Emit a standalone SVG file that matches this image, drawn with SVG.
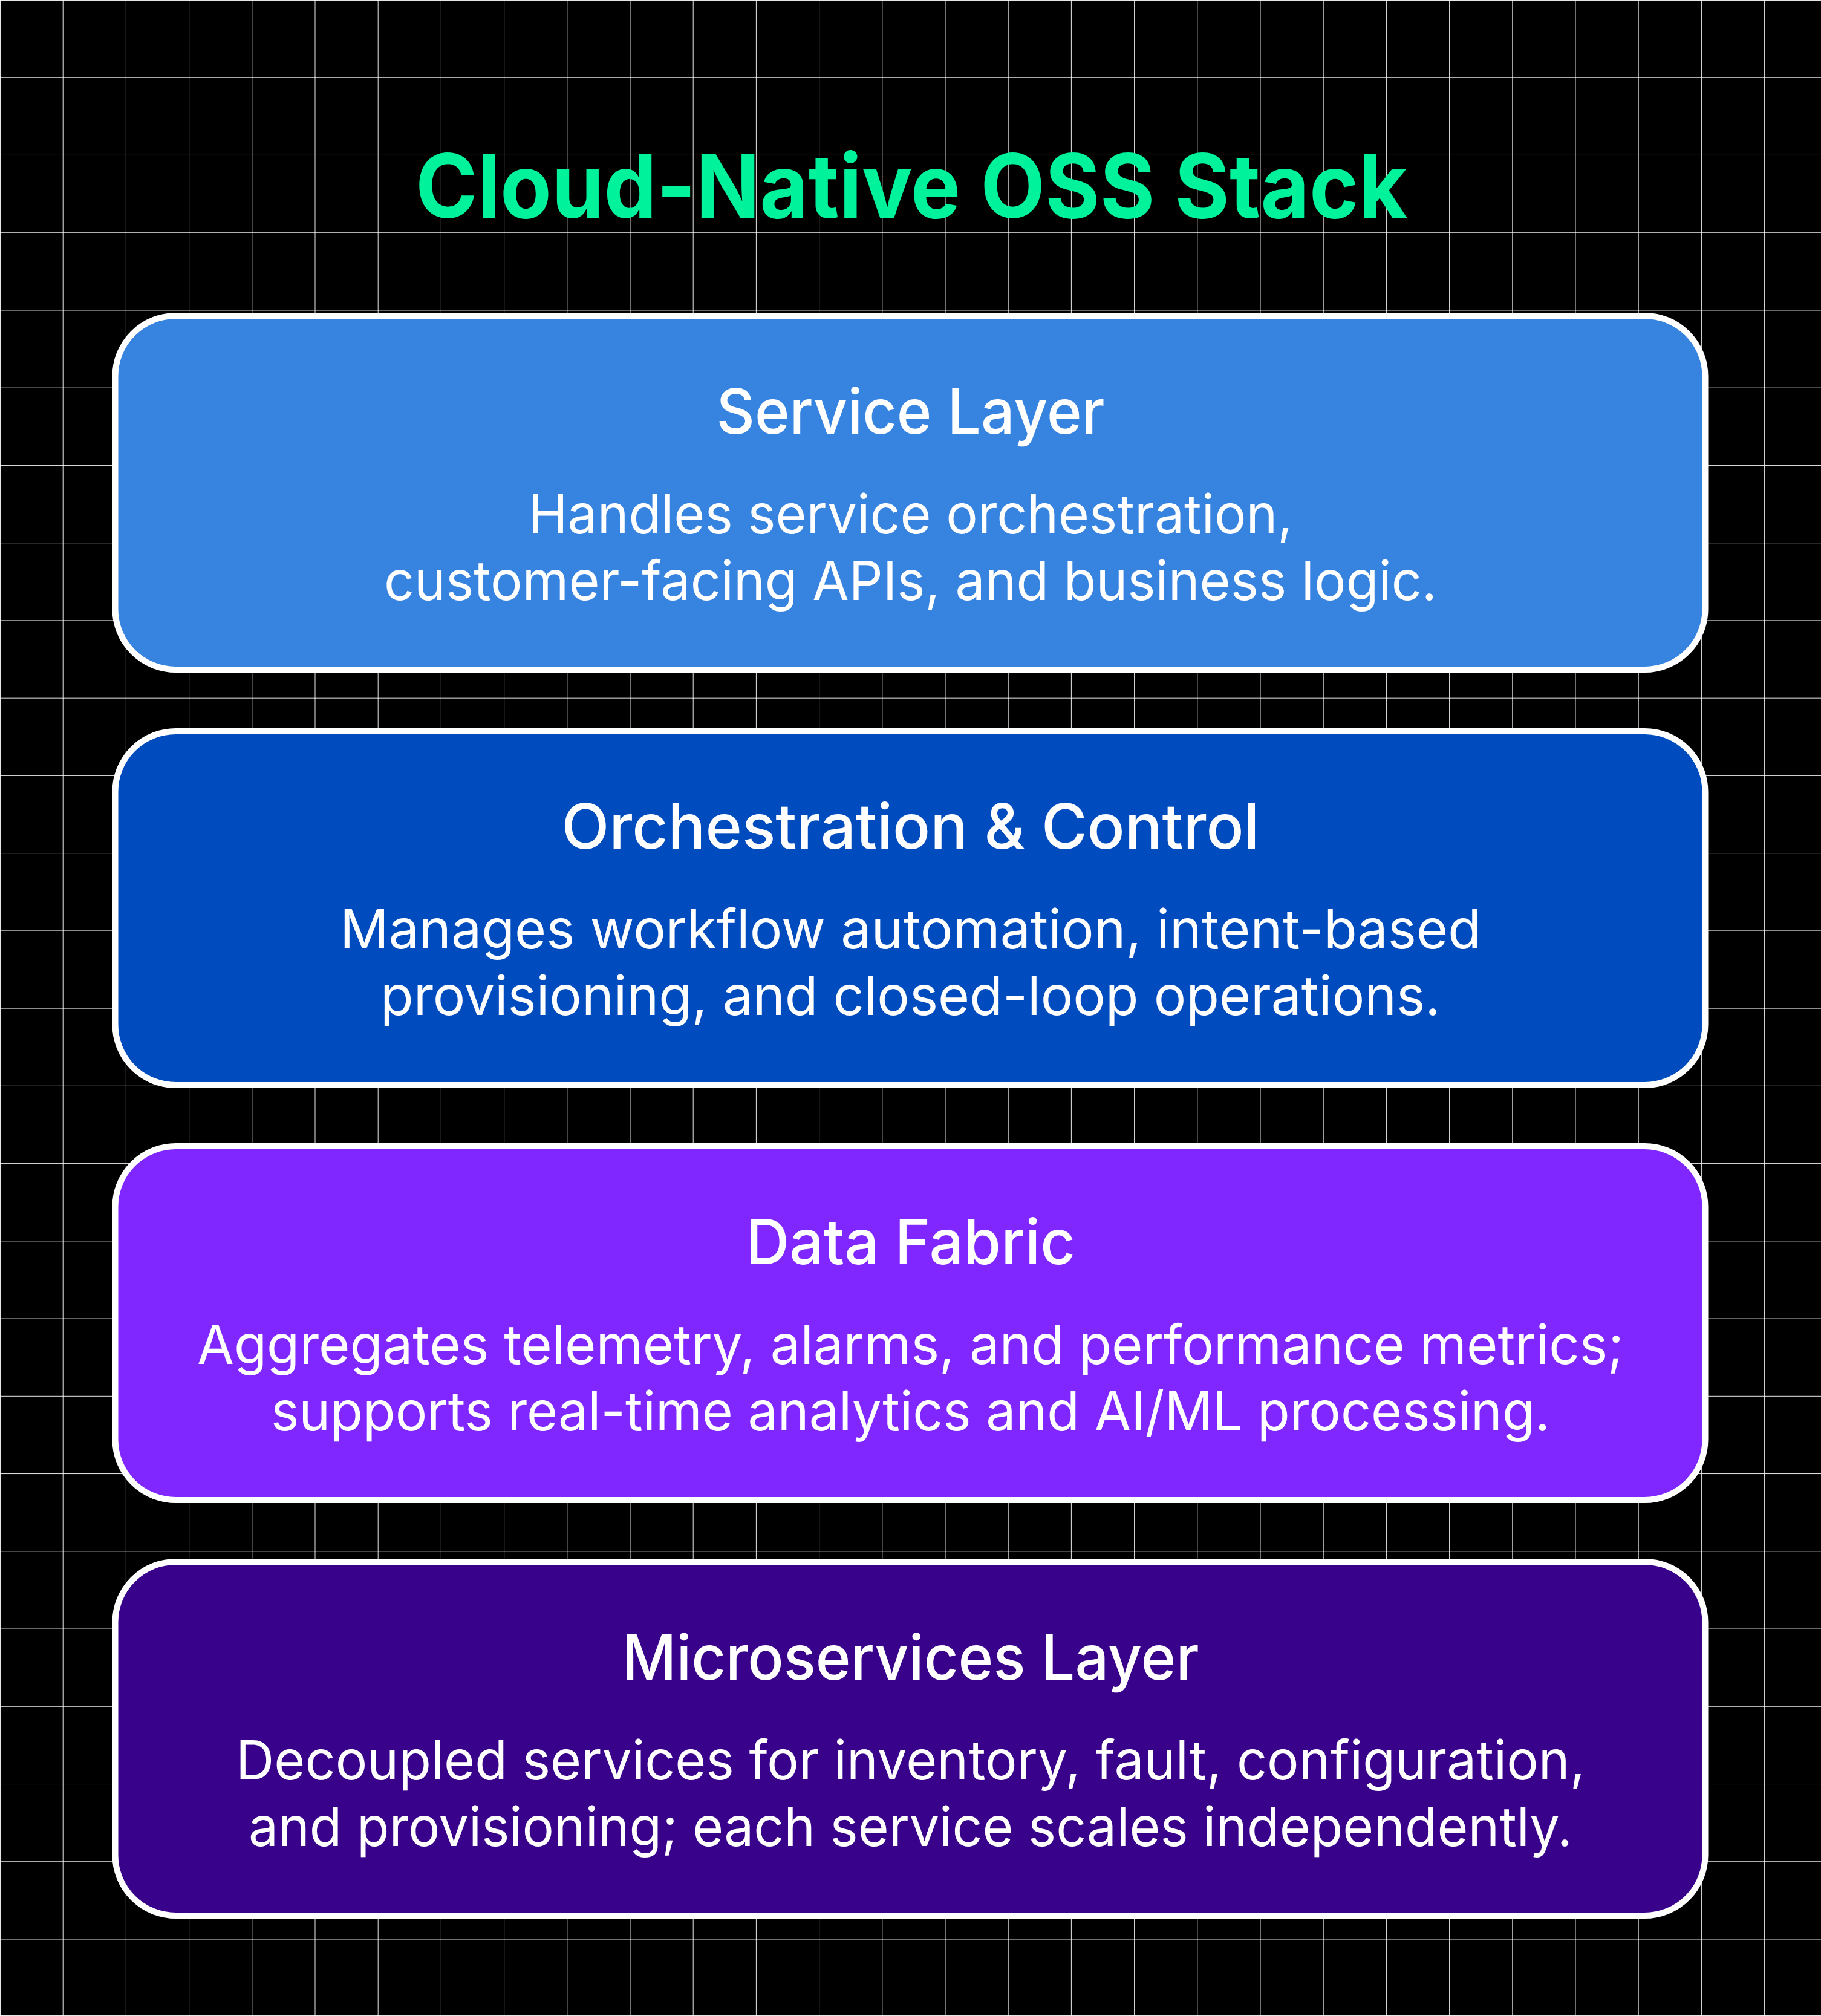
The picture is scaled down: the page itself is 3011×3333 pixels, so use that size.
<svg xmlns="http://www.w3.org/2000/svg" width="3011" height="3333" viewBox="0 0 3011 3333">
<style>
.grid{stroke:#ffffff;stroke-width:1;fill:none;opacity:0.9}
.box{stroke:#ffffff;stroke-width:10}
.title{font-family:Inter,"Liberation Sans",sans-serif;font-weight:700;font-size:146px;fill:#00F39A;text-anchor:middle}
.head{font-family:Inter,"Liberation Sans",sans-serif;font-weight:500;font-size:103px;fill:#ffffff;text-anchor:middle}
.body{font-family:Inter,"Liberation Sans",sans-serif;font-weight:400;font-size:90px;fill:#ffffff;text-anchor:middle}
</style>
<rect x="0" y="0" width="3011" height="3333" fill="#000000"/>
<path class="grid" d="M0.5 0V3333M104.2 0V3333M208.4 0V3333M312.6 0V3333M416.8 0V3333M521 0V3333M625.2 0V3333M729.4 0V3333M833.6 0V3333M937.8 0V3333M1042 0V3333M1146.2 0V3333M1250.4 0V3333M1354.6 0V3333M1458.8 0V3333M1563 0V3333M1667.2 0V3333M1771.4 0V3333M1875.6 0V3333M1979.8 0V3333M2084 0V3333M2188.2 0V3333M2292.4 0V3333M2396.6 0V3333M2500.8 0V3333M2605 0V3333M2709.2 0V3333M2813.4 0V3333M2917.6 0V3333M0 0.5H3011M0 128.24H3011M0 256.48H3011M0 384.72H3011M0 512.96H3011M0 641.2H3011M0 769.44H3011M0 897.68H3011M0 1025.92H3011M0 1154.16H3011M0 1282.4H3011M0 1410.64H3011M0 1538.88H3011M0 1667.12H3011M0 1795.36H3011M0 1923.6H3011M0 2051.84H3011M0 2180.08H3011M0 2308.32H3011M0 2436.56H3011M0 2564.8H3011M0 2693.04H3011M0 2821.28H3011M0 2949.52H3011M0 3077.76H3011M0 3206H3011M0 3332.5H3011"/>
<text class="title" x="1507" y="360" textLength="1640" lengthAdjust="spacingAndGlyphs">Cloud-Native OSS Stack</text>
<g id="service-layer">
<rect class="box" x="190.5" y="522" width="2629" height="585" rx="100" fill="#3783E0"/>
<text class="head" x="1505.5" y="717" textLength="642" lengthAdjust="spacingAndGlyphs">Service Layer</text>
<text class="body" x="1505.5" y="882" textLength="1264" lengthAdjust="spacingAndGlyphs">Handles service orchestration,</text>
<text class="body" x="1505.5" y="992" textLength="1741" lengthAdjust="spacingAndGlyphs">customer-facing APIs, and business logic.</text>
</g>
<g id="orchestration-control">
<rect class="box" x="190.5" y="1209" width="2629" height="585" rx="100" fill="#004CBF"/>
<text class="head" x="1505.5" y="1403" textLength="1154" lengthAdjust="spacingAndGlyphs">Orchestration &amp; Control</text>
<text class="body" x="1505.5" y="1568" textLength="1887" lengthAdjust="spacingAndGlyphs">Manages workflow automation, intent-based</text>
<text class="body" x="1505.5" y="1678" textLength="1753" lengthAdjust="spacingAndGlyphs">provisioning, and closed-loop operations.</text>
</g>
<g id="data-fabric">
<rect class="box" x="190.5" y="1895" width="2629" height="585" rx="100" fill="#7F27FE"/>
<text class="head" x="1505.5" y="2090" textLength="545" lengthAdjust="spacingAndGlyphs">Data Fabric</text>
<text class="body" x="1505.5" y="2255" textLength="2359" lengthAdjust="spacingAndGlyphs">Aggregates telemetry, alarms, and performance metrics;</text>
<text class="body" x="1505.5" y="2365" textLength="2115" lengthAdjust="spacingAndGlyphs">supports real-time analytics and AI/ML processing.</text>
</g>
<g id="microservices-layer">
<rect class="box" x="190.5" y="2582" width="2629" height="585" rx="100" fill="#38038A"/>
<text class="head" x="1505.5" y="2777" textLength="954" lengthAdjust="spacingAndGlyphs">Microservices Layer</text>
<text class="body" x="1505.5" y="2942" textLength="2231" lengthAdjust="spacingAndGlyphs">Decoupled services for inventory, fault, configuration,</text>
<text class="body" x="1505.5" y="3052" textLength="2189" lengthAdjust="spacingAndGlyphs">and provisioning; each service scales independently.</text>
</g>
<g id="connectors"></g>
</svg>
